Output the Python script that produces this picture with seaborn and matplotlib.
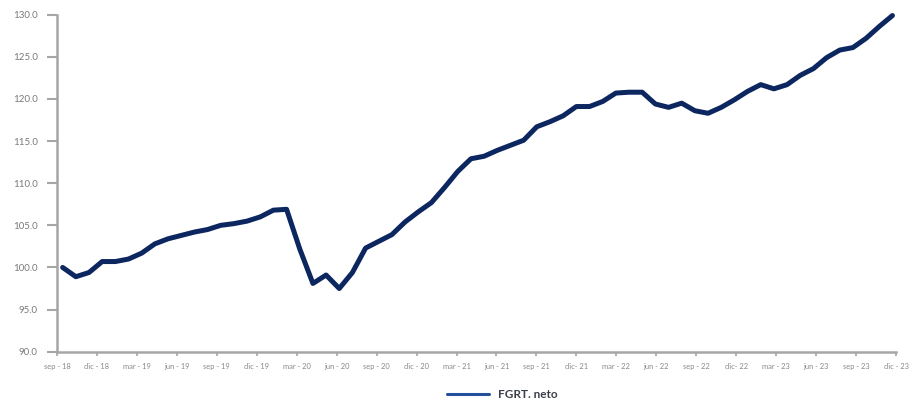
import numpy as np
import pandas as pd
import matplotlib
matplotlib.use("Agg")
import matplotlib.pyplot as plt
import seaborn as sns

months = ["sep-18","oct-18","nov-18","dic-18","ene-19","feb-19","mar-19","abr-19","may-19","jun-19",
          "jul-19","ago-19","sep-19","oct-19","nov-19","dic-19","ene-20","feb-20","mar-20","abr-20",
          "may-20","jun-20","jul-20","ago-20","sep-20","oct-20","nov-20","dic-20","ene-21","feb-21",
          "mar-21","abr-21","may-21","jun-21","jul-21","ago-21","sep-21","oct-21","nov-21","dic-21",
          "ene-22","feb-22","mar-22","abr-22","may-22","jun-22","jul-22","ago-22","sep-22","oct-22",
          "nov-22","dic-22","ene-23","feb-23","mar-23","abr-23","may-23","jun-23","jul-23","ago-23",
          "sep-23","oct-23","nov-23","dic-23"]
fgrt_neto = [100.0, 98.9, 99.4, 100.7, 100.7, 101.0, 101.7, 102.8, 103.4, 103.8,
             104.2, 104.5, 105.0, 105.2, 105.5, 106.0, 106.8, 106.9, 102.2, 98.1,
             99.1, 97.5, 99.4, 102.3, 103.1, 103.9, 105.4, 106.6, 107.7, 109.5,
             111.4, 112.9, 113.2, 113.9, 114.5, 115.1, 116.7, 117.3, 118.0, 119.1,
             119.1, 119.7, 120.7, 120.8, 120.8, 119.4, 119.0, 119.5, 118.6, 118.3,
             119.0, 119.9, 120.9, 121.7, 121.2, 121.7, 122.8, 123.6, 124.9, 125.8,
             126.1, 127.2, 128.6, 129.9]
tick_labels = ["sep - 18","dic - 18","mar - 19","jun - 19","sep - 19","dic - 19","mar - 20",
               "jun - 20","sep - 20","dic - 20","mar - 21","jun - 21","sep - 21","dic- 21",
               "mar - 22","jun - 22","sep - 22","dic- 22","mar - 23","jun - 23","sep - 23","dic - 23"]
y_ticks = [90, 95, 100, 105, 110, 115, 120, 125, 130]
series_name = "FGRT. neto"

df = pd.DataFrame({"idx": np.arange(len(fgrt_neto)), "value": fgrt_neto, "serie": series_name})

sns.set_style("white")
plt.rcParams["font.family"] = ["Lato", "DejaVu Sans"]

fig = plt.figure(figsize=(9.16, 4.0), dpi=100)
ax = fig.add_axes([57/916, 1-351.7/400, (896-57)/916, (351.7-14.7)/400])

sns.lineplot(data=df, x="idx", y="value", hue="serie", palette=["#0c2660"],
             linewidth=3.6, ax=ax, legend=False)
for ln in ax.get_lines():
    ln.set_clip_on(False)
    ln.set_solid_capstyle("round")
    ln.set_solid_joinstyle("round")

xmin, xmax = -0.43, 63.27
ax.set_xlim(xmin, xmax)
ax.set_ylim(90, 130)
ax.set_xticks(np.linspace(xmin, xmax, len(tick_labels)))
ax.set_xticklabels(tick_labels, fontsize=5.4, color="#888888")
ax.set_yticks(y_ticks)
ax.set_yticklabels([f"{v:.1f}" for v in y_ticks], fontsize=7, color="#7a7a7a")
ax.set_xlabel("")
ax.set_ylabel("")

for side in ["top", "right"]:
    ax.spines[side].set_visible(False)
for side in ["left", "bottom"]:
    ax.spines[side].set_color("#a6a6a6")
    ax.spines[side].set_linewidth(1.8)
ax.tick_params(axis="y", direction="out", length=7, width=1.5, color="#a6a6a6", pad=7, left=True)
ax.tick_params(axis="x", direction="out", length=3, width=1.2, color="#a6a6a6", pad=5, bottom=True)

from matplotlib.lines import Line2D
handle = Line2D([], [], color="#22509a", linewidth=2.2)
leg = fig.legend([handle], [series_name], loc="center", bbox_to_anchor=(502/916, 1-395/400),
                 frameon=False, handlelength=3.6, handletextpad=0.7,
                 prop={"size": 8.5, "weight": "bold"})
for t in leg.get_texts():
    t.set_color("#3a3f4a")

fig.savefig("out.png", dpi=100, facecolor="white")
